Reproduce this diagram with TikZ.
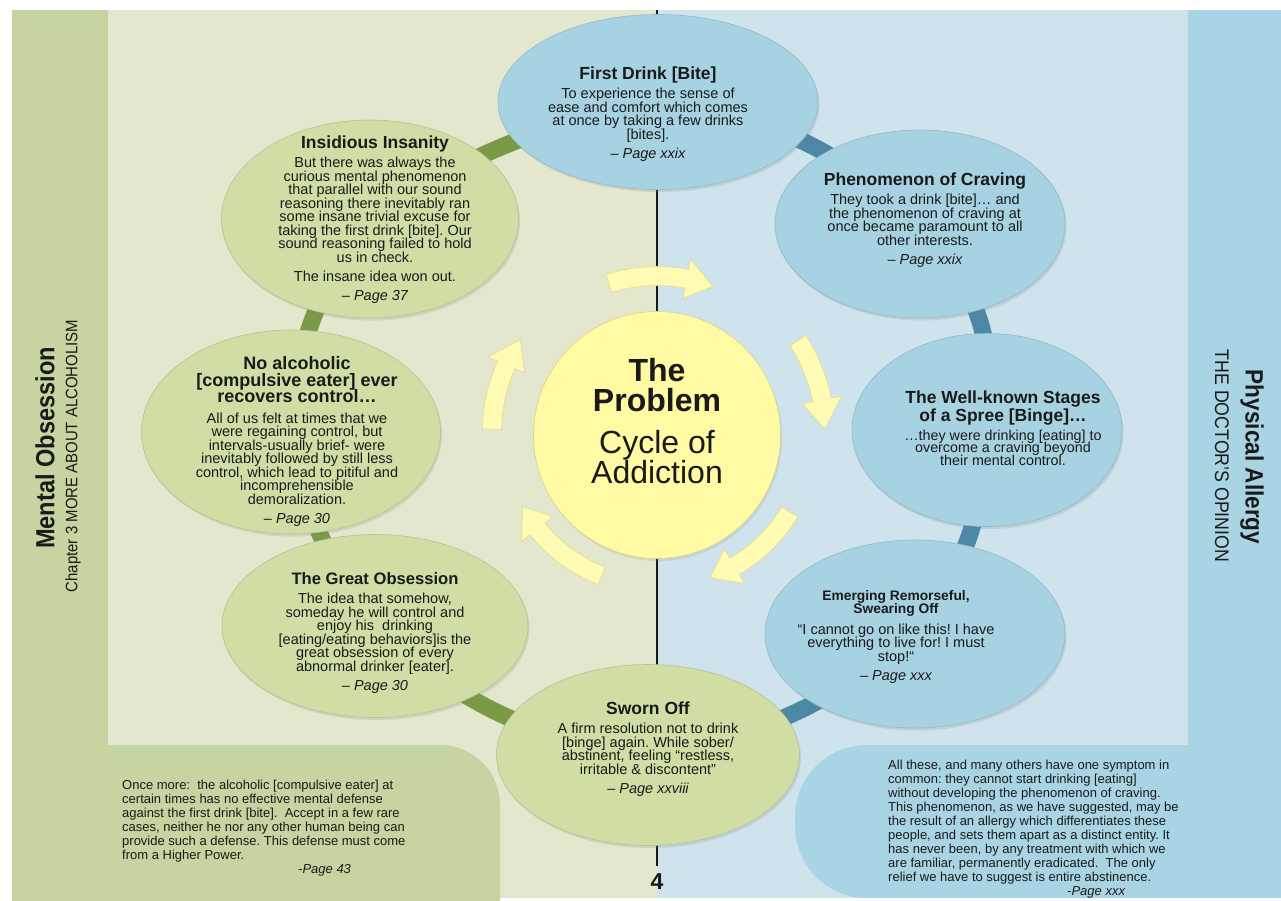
\documentclass[tikz,border=0pt]{standalone}
\usepackage{fontspec}
\setmainfont{Liberation Sans}
\usepackage{graphicx}
\usetikzlibrary{shapes.geometric,shadows}
\pgfdeclarelayer{back}
\pgfdeclarelayer{mid}
\pgfsetlayers{back,mid,main}
\definecolor{lstrip}{HTML}{C5D4A0}
\definecolor{lbg}{HTML}{E2E7CE}
\definecolor{rbg}{HTML}{CEE3EC}
\definecolor{rstrip}{HTML}{A9D4E4}
\definecolor{gell}{HTML}{D0DDA4}
\definecolor{bell}{HTML}{A7D2E2}
\definecolor{gring}{HTML}{7B9A45}
\definecolor{bring}{HTML}{4B88A5}
\definecolor{yel}{HTML}{FFFAA3}
\definecolor{arr}{HTML}{FFFBB5}
\definecolor{arrd}{HTML}{E6DC92}
\definecolor{ink}{HTML}{1A1A1A}
\newcommand{\wsp}{\spaceskip=0.278em\xspaceskip=0.278em\relax}
\newcommand{\ttlf}[2]{\fontsize{#1}{#2}\selectfont\bfseries\lineskiplimit=-20pt\wsp}
\newcommand{\bdyf}{\fontsize{14.5}{13.5}\selectfont\lineskiplimit=-20pt\wsp}
\newcommand{\pgref}[1]{{\bdyf\itshape – Page #1\par}}
\newcommand{\cyclearrow}[3]{%
\pgfmathsetmacro{\hb}{#2-10}%
\filldraw[arrowsty] plot[domain=#1:\hb,samples=16] ({657+(#3+9.5)*cos(\x)},{432+(#3+9.5)*sin(\x)})
 -- ({657+(#3+20)*cos(\hb)},{432+(#3+20)*sin(\hb)})
 -- ({657+#3*cos(#2)},{432+#3*sin(#2)})
 -- ({657+(#3-20)*cos(\hb)},{432+(#3-20)*sin(\hb)})
 -- plot[domain=\hb:#1,samples=16] ({657+(#3-9.5)*cos(\x)},{432+(#3-9.5)*sin(\x)})
 -- cycle;}
\begin{document}
\begin{tikzpicture}[x=1pt,y=-1pt,
  ell/.style={ellipse,inner sep=0pt,line width=0.6pt,
    drop shadow={shadow xshift=1.5pt,shadow yshift=-2.5pt,opacity=0.2}},
  bel/.style={ell,fill=bell,draw=bell!88!black},
  gel/.style={ell,fill=gell,draw=gell!88!black},
  gconn/.style={draw=gring,line width=17pt},
  bconn/.style={draw=bring,line width=17pt},
  txt/.style={text width=300pt,inner sep=0pt,anchor=north,text=ink,
    execute at begin node={\parindent=0pt\centering}},
  ltxt/.style={text width=360pt,inner sep=0pt,anchor=north west,text=ink,
    execute at begin node={\parindent=0pt\raggedright}},
  arrowsty/.style={fill=arr,draw=arrd,line width=0.7pt},
  side/.style={inner sep=0pt,text=ink}]
\useasboundingbox (0,0) rectangle (1281,900);

% panels
\begin{pgfonlayer}{back}
\fill[lbg] (108,10) rectangle (657,898);
\fill[rbg] (657,10) rectangle (1188,898);
\fill[lstrip] (12,10) rectangle (108,898);
\fill[rstrip] (1188,10) rectangle (1281,898);
\fill[lstrip,rounded corners=60pt] (12,745) rectangle (500,990);
\fill[rstrip,rounded corners=72pt] (795,745) rectangle (1400,898);
\end{pgfonlayer}

% ellipses
\node[bel,minimum width=320pt,minimum height=175pt] (fd) at (658,102) {};
\node[bel,minimum width=290pt,minimum height=188pt] (cr) at (920,224) {};
\node[bel,minimum width=270pt,minimum height=193pt] (st) at (987,430) {};
\node[bel,minimum width=300pt,minimum height=188pt] (em) at (915,634) {};
\node[gel,minimum width=303pt,minimum height=181pt] (sw) at (648,755) {};
\node[gel,minimum width=306pt,minimum height=183pt] (go) at (375,626) {};
\node[gel,minimum width=299pt,minimum height=204pt] (na) at (291,432) {};
\node[gel,minimum width=297pt,minimum height=198pt] (ins) at (370,219) {};
\node[circle,fill=yel,draw=yel!85!black,line width=0.6pt,minimum size=247pt,inner sep=0pt,
  drop shadow={shadow xshift=1.5pt,shadow yshift=-2.5pt,opacity=0.15}] (prob) at (657,435) {};

% ring connectors and centre line
\coordinate (ltop) at (657,10);
\coordinate (lbot) at (657,866);
\begin{pgfonlayer}{mid}
\draw[line width=2.2pt,ink] (ltop) -- (lbot);
\draw[gconn] (ins.center) to[bend left=11] (fd.center);
\draw[bconn] (fd.center) to[bend left=17.5] (cr.center);
\draw[bconn] (cr.center) to[bend left=25] (st.center);
\draw[bconn] (st.center) to[bend left=17] (em.center);
\draw[bconn] (em.center) to[bend left=15] (sw.center);
\draw[gconn] (sw.center) to[bend left=17] (go.center);
\draw[gconn] (go.center) to[bend left=13] (na.center);
\draw[gconn] (na.center) to[bend left=16.5] (ins.center);
\end{pgfonlayer}

% cycle arrows
\cyclearrow{-108}{-69}{156}
\cyclearrow{-33}{-1}{168}
\cyclearrow{31}{70}{155}
\cyclearrow{111}{151}{154}
\cyclearrow{181}{214}{165}

% texts
\node[txt] (fdt) at (648,66.2) {{\ttlf{17.5}{17}First Drink [Bite]\par}\vskip6pt
{\bdyf To experience the sense of\\ease and comfort which comes\\at once by taking a few drinks\\{}[bites].\par}\vskip5.5pt
\pgref{xxix}};

\node[txt] (crt) at (925,172.5) {{\ttlf{17.5}{17}Phenomenon of Craving\par}\vskip6pt
{\bdyf They took a drink [bite]… and\\the phenomenon of craving at\\once became paramount to all\\other interests.\par}\vskip5.5pt
\pgref{xxix}};

\node[txt] (stt) at (1003,390.5) {{\ttlf{17.5}{18}The Well-known Stages\\of a Spree [Binge]…\par}\vskip6pt
{\fontsize{14.3}{12.8}\selectfont\lineskiplimit=-20pt\wsp …they were drinking [eating] to\\overcome a craving beyond\\their mental control.\par}};

\node[txt] (emt) at (896,590) {{\ttlf{13.8}{13.5}Emerging Remorseful,\\Swearing Off\par}\vskip7pt
{\bdyf “I cannot go on like this! I have\\everything to live for! I must\\stop!“\par}\vskip5.5pt
\pgref{xxx}};

\node[txt] (swt) at (648,701.5) {{\ttlf{17.5}{17}Sworn Off\par}\vskip6pt
{\bdyf A firm resolution not to drink\\{}[binge] again. While sober/\\abstinent, feeling “restless,\\irritable \& discontent”\par}\vskip5.5pt
\pgref{xxviii}};

\node[txt] (got) at (375,572) {{\ttlf{16.6}{16.5}The Great Obsession\par}\vskip6pt
{\bdyf The idea that somehow,\\someday he will control and\\enjoy his\ \ drinking\\{}[eating/eating behaviors]is the\\great obsession of every\\abnormal drinker [eater].\par}\vskip5.5pt
\pgref{30}};

\node[txt] (nat) at (297,356.3) {{\ttlf{18}{16.5}No alcoholic\\{}[compulsive eater] ever\\recovers control…\par}\vskip7pt
{\bdyf All of us felt at times that we\\were regaining control, but\\intervals-usually brief- were\\inevitably followed by still less\\control, which lead to pitiful and\\incomprehensible\\demoralization.\par}\vskip6pt
\pgref{30}};

\node[txt] (inst) at (375,135.5) {{\ttlf{17.5}{17}Insidious Insanity\par}\vskip6pt
{\bdyf But there was always the\\curious mental phenomenon\\that parallel with our sound\\reasoning there inevitably ran\\some insane trivial excuse for\\taking the first drink [bite]. Our\\sound reasoning failed to hold\\us in check.\par}\vskip5.5pt
{\bdyf The insane idea won out.\par}\vskip5.5pt
\pgref{37}};

\node[txt,text width=250pt] (probt) at (657,358) {{\fontsize{32}{30}\selectfont\bfseries\lineskiplimit=-20pt\wsp The\\Problem\par}\vskip12pt
{\fontsize{32}{30}\selectfont\lineskiplimit=-20pt\wsp Cycle of\\Addiction\par}};

% bottom quotes
\node[ltxt,text width=340pt] (qleft) at (122,780) {\fontsize{13}{14}\selectfont\wsp
Once more:\ \ the alcoholic [compulsive eater] at\\certain times has no effective mental defense\\against the first drink [bite].\ \ Accept in a few rare\\cases, neither he nor any other human being can\\provide such a defense. This defense must come\\from a Higher Power.\\\hspace*{176pt}\textit{-Page 43}\par};

\node[ltxt] (qright) at (888,759.5) {\fontsize{13}{14}\selectfont\wsp
All these, and many others have one symptom in\\common: they cannot start drinking [eating]\\without developing the phenomenon of craving.\\This phenomenon, as we have suggested, may be\\the result of an allergy which differentiates these\\people, and sets them apart as a distinct entity. It\\has never been, by any treatment with which we\\are familiar, permanently eradicated.\ \ The only\\relief we have to suggest is entire abstinence.\\\hspace*{179pt}\textit{-Page xxx}\par};

% side labels
\node[side,rotate=90] (mo) at (45,448) {\scalebox{0.9}[1]{\fontsize{26.2}{26}\selectfont\bfseries\wsp Mental Obsession}};
\node[side,rotate=90] (ch3) at (73,456) {\scalebox{0.9}[1]{\fontsize{16.6}{16}\selectfont\wsp Chapter 3 MORE ABOUT ALCOHOLISM}};
\node[side,rotate=-90] (pa) at (1252,457) {\scalebox{0.9}[1]{\fontsize{25.1}{25}\selectfont\bfseries\wsp Physical Allergy}};
\node[side,rotate=-90] (doc) at (1222,456) {\scalebox{0.9}[1]{\fontsize{19.7}{19}\selectfont\wsp THE DOCTOR'S OPINION}};

\node[side,font=\fontsize{23}{23}\selectfont\bfseries] (pnum) at (657,882) {4};
\end{tikzpicture}
\end{document}
